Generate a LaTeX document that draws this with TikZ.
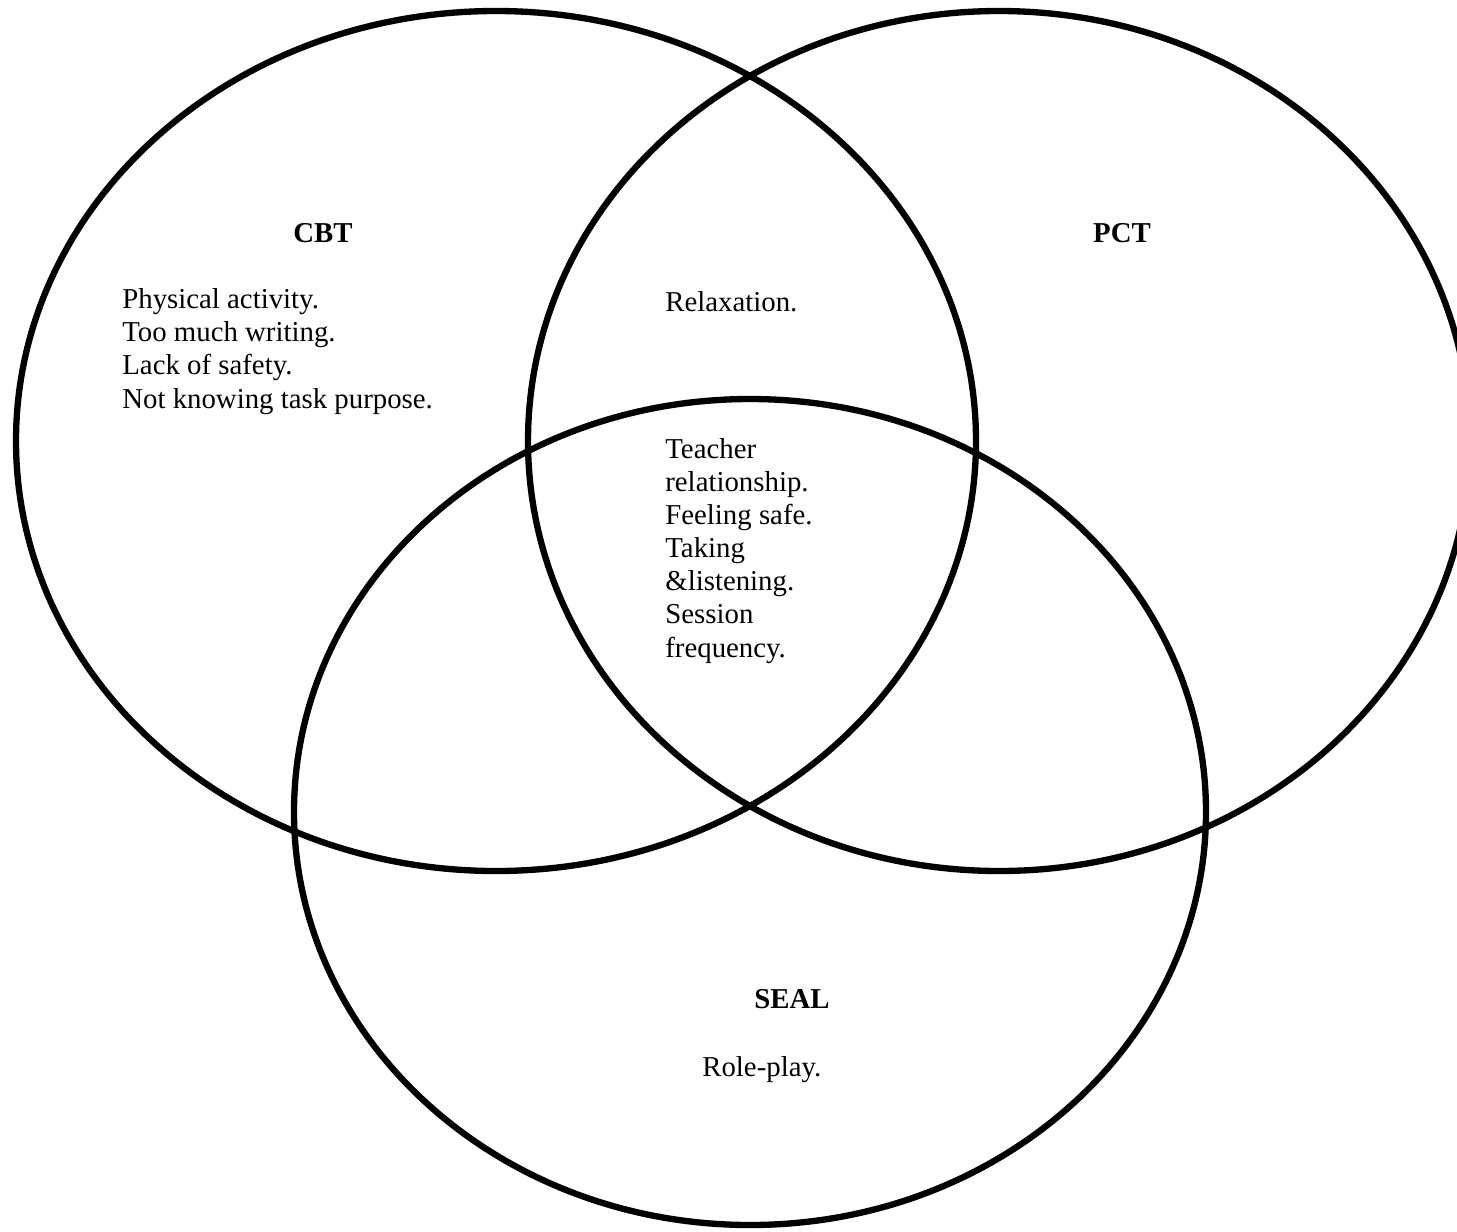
\documentclass[tikz,border=0pt]{standalone}
\usepackage{fontspec}
\setmainfont{Liberation Serif}
\usepackage{tikz}
\usetikzlibrary{positioning}

\begin{document}
\begin{tikzpicture}[x=0.02cm, y=-0.02cm,
			ring/.style={draw=black, line width=3.6pt},
			head/.style={font=\fontsize{16.4}{18.8}\selectfont\bfseries, inner sep=0pt},
			item/.style={font=\fontsize{16.4}{18.8}\selectfont, align=left, inner sep=0pt, anchor=base west}]
			
			\useasboundingbox (0,0) rectangle (1457,1231);
			
			% the three sets
			\draw[ring] (496,441) ellipse (480 and 430);
			\draw[ring] (999,441) ellipse (471 and 430);
			\draw[ring] (750,812) ellipse (456 and 413);
			
			% set names
			\node[head, anchor=base] (cbt) at (323,242) {CBT};
			\node[head, anchor=base] (pct) at (1122,242) {PCT};
			\node[head, anchor=base] (seal) at (792,1008) {SEAL};
			
			% contents (base = last line)
			\node[item] (cbtonly) at (122,408) {Physical activity.\\Too much writing.\\Lack of safety.\\Not knowing task purpose.};
			\node[item] (cbtpct) at (665,311) {Relaxation.};
			\node[item] (all) at (665,657) {Teacher\\relationship.\\Feeling safe.\\Taking\\\&listening.\\Session\\frequency.};
			\node[item] (sealonly) at (702,1076) {Role-play.};
		\end{tikzpicture}
\end{document}
